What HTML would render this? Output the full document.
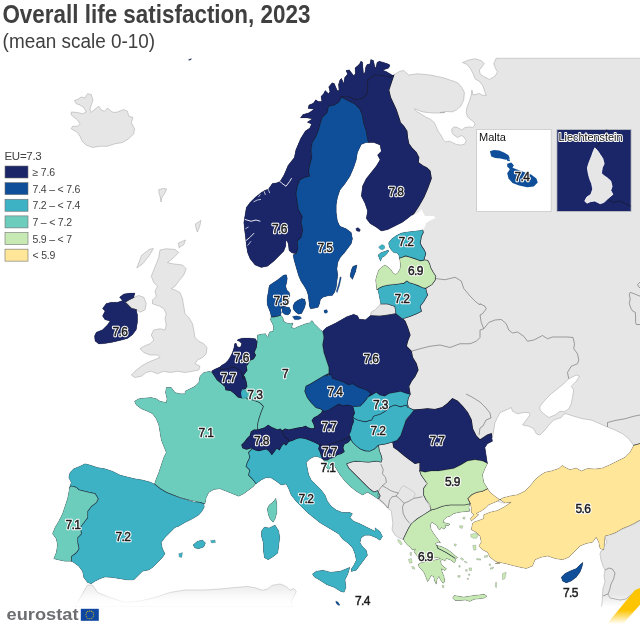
<!DOCTYPE html>
<html><head><meta charset="utf-8"><title>Overall life satisfaction, 2023</title>
<style>
html,body{margin:0;padding:0;background:#fff;}
body{width:640px;height:625px;overflow:hidden;position:relative;font-family:"Liberation Sans",sans-serif;}
svg{position:absolute;left:0;top:0;will-change:transform;}
text{font-family:"Liberation Sans",sans-serif;}
.lab{font-size:11.5px;font-weight:bold;fill:#111;stroke:#fff;stroke-width:2.2px;paint-order:stroke fill;stroke-linejoin:round;letter-spacing:-0.5px;}
.labw{font-size:11.5px;font-weight:bold;fill:#111;stroke:#fff;stroke-width:2.2px;paint-order:stroke fill;stroke-linejoin:round;letter-spacing:-0.5px;}
.halo{font-size:12px;fill:#fff;stroke:#fff;stroke-width:2.4px;stroke-linejoin:round;letter-spacing:-0.6px;}
.fg{font-size:12px;fill:#1c1c1c;stroke:#1c1c1c;stroke-width:0.45px;letter-spacing:-0.6px;}
.leg{font-size:10.5px;fill:#404040;letter-spacing:-0.2px;}
</style></head><body>
<svg width="640" height="625" viewBox="0 0 640 625">
<defs>
<linearGradient id="gfade" gradientUnits="userSpaceOnUse" x1="0" y1="580" x2="0" y2="606"><stop offset="0" stop-color="#e9e9e9"/><stop offset="1" stop-color="#ffffff"/></linearGradient>
<linearGradient id="fade2" gradientUnits="userSpaceOnUse" x1="0" y1="590" x2="0" y2="606"><stop offset="0" stop-color="#fff" stop-opacity="0"/><stop offset="1" stop-color="#fff" stop-opacity="1"/></linearGradient>
<linearGradient id="ofade" gradientUnits="userSpaceOnUse" x1="0" y1="610" x2="0" y2="624"><stop offset="0" stop-color="#fdc400"/><stop offset="1" stop-color="#ffffff"/></linearGradient>
<linearGradient id="gfade2" gradientUnits="userSpaceOnUse" x1="0" y1="594" x2="0" y2="607"><stop offset="0" stop-color="#e6e6e6"/><stop offset="1" stop-color="#ffffff"/></linearGradient>
<linearGradient id="fade" x1="0" y1="0" x2="0" y2="1"><stop offset="0" stop-color="#fff" stop-opacity="0"/><stop offset="1" stop-color="#fff" stop-opacity="1"/></linearGradient>
<path id="p0" d="M74.5,100.5L77.5,99.5L81.25,97L85,98L87.5,93.75L91.25,94.5L93,100L91.25,105L90,108.75L91.25,112.5L93.75,110L98.75,106.25L101.25,110L104.5,111.25L107.5,108L111.25,111.25L113.75,112.5L117.5,112L123.75,109.5L127.5,111.25L128.75,116.25L133,117.5L131.25,122.5L134.5,128.75L133.75,133.75L128.75,138.75L122.5,142.5L115,143.75L107.5,146.25L100,146.25L92.5,147.5L86.25,145L82,141.25L80,136.25L77.5,132.5L71.25,128.75L72.5,126.25L77.5,126.25L80,123.75L77.5,120L71.25,115L71.25,112L77.5,112.5L82.5,113.75L86.25,112L83.75,107.5L80,105L76.25,103.75Z"/>
<path id="p1" d="M393.75,75L400,71.25L403.75,70.5L408.75,75L417.5,73.75L430,75L442.5,77.5L453.75,81.25L458.12,83.12L461.88,87.5L464.38,92.5L463.75,100L460.62,106.25L456.25,110L452.5,111.88L446.25,111.5L440,112.5L445,112.5L437.5,113.12L430,112.75L422.5,111.88L414.38,108.75L416.25,111.25L420.62,113.75L425.62,116.88L430.62,119.38L434.38,122.5L436.25,126.88L438.12,131.25L441.25,135.62L443.12,139.38L445.62,141.88L449.38,141.25L452.5,142.5L456.25,144.38L460.62,145L464.38,144.38L466.25,140.62L463.75,136.88L461.25,135.62L457.5,137.5L453.75,135L451.88,132.5L451.88,128.75L453.75,126.88L457.5,127.5L461.88,130L465,127.5L470,126.88L472.5,127.5L474.38,125.62L475,123.12L471.25,120L467.5,116.88L466.25,112.5L466.88,107.5L469.38,101.25L471.25,95L471.88,90L473.12,95L479.38,93.5L482.5,95.25L486.25,95.25L485,92.5L483.12,86.25L480,81.88L475,78.75L473.12,73.75L470.62,68.75L466.88,64.38L462.5,62.5L468.75,60L475,58.75L481.25,60.62L484.38,63.75L481.88,66.88L479.38,70L480,73.75L483.12,76.25L489.38,79.38L495,76.25L497.5,71.88L495.62,68.75L493.75,63.75L496.25,58.12L645,58L645,470L560,485L470,485L440,460L420,430L405,400L400,350L405,300L415,260L412,232L412,200L405,150L395,125L386,100L384,85L389,76Z"/>
<path id="p2" d="M387.5,239L395,231L402.5,222.25L407.5,218.5L413.75,214.75L418.75,212.25L421.25,209L423,212.25L425,216L433.75,216L435.5,218L430,220.5L426.25,223L424.5,227.25L423,230.5L410,232.25L400,234.75L392.5,237.25Z"/>
<path id="p3" d="M487.5,440L492.5,437.5L493.75,430L495,422.5L497.5,417.5L500,412.5L507.5,409.5L511.25,407.5L512.5,411.25L517.5,413.75L523.75,412.5L528.75,412.5L530,415L526.25,420L522.5,425L528.75,426.25L533.75,428.75L536.25,433.75L540,435L545,430L548.75,425L553.75,420L561.25,417.5L563.75,414.25L566.25,413.75L573.75,416.25L582.5,418.75L591.25,420L600,423.75L607.5,427L615,430L622.5,433.75L628.75,438.75L632.5,443.75L633.75,446L636,452L620,470L560,482L520,499L503,503L497,501L480,497L474,475L478,455L484,440Z"/>
<path id="p4" d="M568.75,378.75L576.25,375L579.5,376.25L576.25,381.25L571.25,386.25L573.75,390L572.5,397.5L571.25,403.75L568.75,408.75L564.5,411.75L560,411.25L555,415L548.75,417.5L543.75,413.75L540,410L540,406.25L545,400L551.25,393.75L557.5,388.75L563.75,383.75Z"/>
<path id="p5" d="M160,250L166.25,248.75L175,249.5L178.75,252.5L173.75,257.5L167.5,262.5L172.5,263.75L182.5,265L186.25,268.75L183.75,275L178.75,281.25L175,286.25L171.25,288.75L175,290L180,292.5L182.5,298.75L183.75,306.25L185,313.75L188.75,317.5L192.5,323.75L193.75,330L195,337.5L198.75,341.25L203.75,343.75L207,347.5L206.25,353.75L202.5,357.5L197.5,360L195,363.75L200,366.25L198.75,370L192.5,371.25L185,372.5L177.5,371.25L170,372.5L163.75,371.25L157.5,373.75L151.25,371.25L146.25,372.5L141.25,376.25L135,377.5L131.25,375L135,371.25L141.25,366.25L147.5,362.5L153.75,360L160,357.5L157.5,355L150,355L143.75,352.5L140,348.75L143.75,346.25L150,343.75L153.75,340L151.25,335L153.75,330L160,328.75L165,330L166.25,325L165,318.75L166.25,313.75L163.75,308.75L160,306.25L156.25,305L152.5,303.75L152.5,300L156.25,296.25L155,291.25L157.5,286.25L153.75,282.5L151.25,276.25L153.75,270L156.25,263.75L158.75,257.5Z"/>
<path id="p6" d="M128.75,299.75L133.75,297.25L138.75,295.5L143.75,297.25L146.25,303.5L145,309.75L140,312.25L136.25,309.75L131.25,308.5L127.5,304.75L125,302.25Z"/>
<path id="p7" d="M370,317.5L371.25,312L375.5,309.5L380.75,303.75L387.5,303.75L395,306.25L396.25,313.75L388.75,315L380,316.25Z"/>
<path id="p8" d="M345,463.5L351.25,460.5L360,460.5L368.75,460L377.5,461.5L380,453.5L375,438.5L400,438.5L422.5,461L426.25,473.5L426.25,499.75L431.25,509.75L428.75,513.5L422.5,517.25L417.5,519.75L412.5,522.25L408.75,528.5L406.25,536L402.5,539.75L404.04,539.61L398.43,537.69L394.43,534.48L392.03,529.68L392.83,523.27L392.03,516.87L391.23,510.78L388.02,508.54L384.02,504.06L380.02,500.85L376.81,497.33L375.21,494.45L368.75,488.5L363.75,483.5L358.75,478.5L353.75,473.5L348.75,468.5Z"/>
<path id="p9" d="M158.7,189.7L163,188.5L166.6,189L165,192.8L161.9,197.5L161,202L160,196L159,193Z"/>
<path id="p10" d="M195.4,224L201,220.4L199.5,227L197.3,232L196,228Z"/>
<path id="p11" d="M178.5,243L185.4,240L183.8,244.6L179,247.7Z"/>
<path id="p12" d="M136.8,268L141.5,255.5L149.3,249.3L153.4,248.6L149.3,255.5L143,263.4Z"/>
<path id="p13" d="M211.25,372.5L210,371.25L203.75,372.5L200,376.25L198.75,382.5L195,386.25L190,388.75L185,391.25L185,393.75L180,393.75L175,392.5L171.25,387.5L166.25,387.5L165.5,392.5L167,398.75L166.25,402.5L160,401.25L156.25,398.75L151.25,397.5L145,398L138.75,398.75L134.5,401.25L136.25,405L141.25,408.75L147.5,411.25L152.5,413.75L156.25,418.75L158.75,425L160,432.5L161.25,440L163.75,446.25L166.25,452.5L163.75,457.5L161.25,465L158.75,472.5L156.25,478.75L154.5,483.75L160,488.75L166.25,492.5L172.5,495L180,497.5L187.5,499.5L195,501.25L201.25,503L205,503.75L206.25,497.5L208.75,492.5L213.75,489.5L220,488.75L226.25,491.25L232.5,493.75L238.75,496.25L243.75,493.75L248.75,490L253.75,486.25L257.5,481.25L258.75,475L256.25,460L257.5,445L265,432.5L270,420L270,407.5L260,398.75L250,393.75L240,387.5L227.5,380L217.5,372.5Z"/>
<path id="p14" d="M296.25,253.75L292,253L289,250.5L288.25,244L287,240.75L286,241L285.75,246.25L283.75,251.25L278.75,256.25L273.75,261.25L267.5,266.25L261.25,267.5L255,265L250,258.75L247.5,252.5L246.25,245L245.5,237.5L244.5,230L243.75,222.5L245,215L246.25,207.5L250,202.5L255,197.5L261.25,192.5L264.48,190.53L268.4,188.97L272.32,183.48L277.02,182.7L280.16,181.13L284.08,174.86L287.99,165.45L294.26,157.62L295.83,149.78L300.53,138.81L305.24,130.97L309.77,128.03L311.48,123.91L307.19,122.19L312.34,118.75L307.19,117.89L300.31,117.89L302.89,114.45L308.91,112.73L314.06,109.3L308.05,108.44L308.91,105L313.2,103.28L315.78,99.84L318.36,101.56L321.8,101.56L320.94,96.41L323.52,93.83L325.23,90.39L328.67,93.83L329.88,91.25L328.67,86.95L332.11,82.66L334.34,83.52L337.27,90.39L338.98,90.39L338.47,84.38L339.84,80.08L341.56,78.36L343.62,83.52L344.66,77.5L347.58,74.06L345.86,70.62L349.3,69.77L351.88,73.2L353.94,75.78L355.31,73.2L354.97,68.05L357.89,65.47L359.61,63.75L360.81,61.17L362.53,62.03L363.05,68.05L363.56,74.06L364.94,72.34L365.62,67.19L367,64.61L369.92,63.75L370.78,59.45L373.36,60.31L374.22,63.75L375.08,68.05L376.28,66.33L376.97,62.38L379.38,61.17L383.67,62.38L387.11,63.41L390.03,65.12L388.83,68.05L385.39,69.25L382.81,70.28L386.25,71.48L390.55,74.06L393.12,75.78L390,77.5L385,76.25L382.5,76.25L375,75L368,80L367.5,93.75L362.5,98.75L355,100L347.5,96.25L342,97L338.75,102.5L333.75,105.5L328.75,106.25L327.5,112.5L322.5,117.5L320,125L318.75,130L316.25,136.25L312.5,142.5L311.25,150L312,157.5L310,165L308.75,171.25L310,176.25L305,177.5L300,180L297.5,186.25L296.25,193.75L297.5,202.5L298.75,210L302.5,216.25L301.25,222.5L303,230L301.25,237.5L297.5,241.25L298,248.75Z"/>
<path id="p15" d="M322.82,331.07L326.27,327.62L335.67,322.92L346.65,316.65L353.7,314.29L357.62,315.86L359.18,319L365.45,319.78L370.16,315.86L380,316.25L388.75,315L396.25,313.75L400,316.25L405,321.25L407.5,327.5L410,335L407.5,341.25L406.25,346.25L411.25,351.25L412.5,357.5L416.25,363.75L418,370L415,376.25L411.25,381.25L408.75,386.25L410,393.75L405,396.25L392.5,397.5L381.25,397.5L370,397.5L360,390L347.5,386.25L335,381.25L328.75,375L328.75,367.5L326.25,360L323.75,352.5L322.5,343.75L323.75,336.25Z"/>
<path id="p16" d="M406.25,420L410,415L413.75,410L420,409.5L427.5,408.75L435,409.5L442.5,407.5L447.5,403.75L452.5,398.75L457.5,401.25L462.5,406.25L467.5,412.5L471.25,420L472.5,428.75L476.25,436.25L480,440L487.5,435L491.25,433.75L492.5,441.25L487.5,443.75L485,447.5L487.5,463.5L482.5,461L475,459.75L467.5,461L461.25,464.75L453.75,468.5L446.25,469.75L438.75,471L431.25,471L425,472.25L420,471L420,462.25L415,463.5L410,459.75L405,456L397.5,449.75L393.75,447.25L392.5,440L396.25,432.5L400,425L403.75,417.5Z"/>
<path id="p17" d="M403.59,538.67L406.17,533.52L408.75,528.36L411.33,524.06L417.34,518.91L424.22,514.61L431.09,510.31L437.97,505.16L446.56,502.58L455.16,503.44L463.75,502.58L468.05,499.14L471.48,500L470.62,501.72L468.91,506.88L469.77,511.17L463.75,511.69L458.59,512.38L453.44,513.75L450,516.33L446.56,517.19L443.98,519.77L443.12,522.34L446.56,523.2L450,524.06L448.28,525.78L444.84,524.92L445.7,527.5L443.98,529.22L441.41,527.5L439.69,530.08L437.97,528.36L437.11,525.78L434.53,524.06L431.95,522.34L430.23,524.92L431.09,529.22L433.67,533.52L436.25,536.95L438.83,540.39L440.55,542.97L437.97,542.11L435.39,543.83L437.97,546.41L442.27,548.12L446.56,550.7L450,553.28L453.44,556.72L456.02,560.16L454.3,562.73L450.86,560.16L446.56,558.44L444.84,561.02L442.27,559.3L440.55,561.02L441.41,564.45L443.98,567.03L446.56,568.75L444.84,570.47L441.41,568.75L442.27,572.19L443.98,576.48L444.84,581.64L443.12,583.36L440.55,579.92L438.83,576.48L437.11,579.06L436.25,584.22L434.53,580.78L433.67,576.48L431.09,575.62L429.38,579.06L427.66,581.64L425.94,577.34L424.22,573.05L421.64,569.61L419.06,567.03L418.2,564.45L420.78,562.73L425.08,561.88L429.38,561.02L433.67,560.16L437.97,559.3L440.55,558.44L437.11,557.58L431.95,558.44L426.8,559.3L422.5,559.3L419.06,558.44L416.48,555L413.91,551.56L415.62,548.98L412.19,549.84L410.47,547.27L407.03,544.69L404.45,541.25Z"/>
<path id="p18" d="M641.25,443.5L633.75,445.5L630,452.25L625,457.25L617.5,461L610,464.75L602.5,468L595,469L587.5,468.5L581.25,471L576.25,468L570,469.75L565,467.25L562.5,465.5L558.75,468.5L551.25,471L545,472.25L540,475.5L535,479.75L530,486L525,491L517.5,494.75L510,496L502.5,498L500,499.75L505,503L511.25,502.25L503.75,507.25L497.5,510.5L490,512.25L483.75,514.75L483.75,518.5L478.75,520.5L475,521.5L472.5,523.5L471.25,529.75L476.25,532.25L480,536L481.25,542.25L478.75,546L482.5,549.75L487.5,552.25L490,557.25L495,561L500,563.5L495,563.5L498.75,562.25L505,563.5L512.5,565.5L520,567.25L526.25,568.5L532.5,566L535,559.75L541.25,557.25L547.5,556L555,558.5L562.5,559.75L568.75,557.25L575,551L580,546L586.25,543.5L592.5,542.25L596.25,537.25L598.75,542.25L600,548.5L603.75,549.75L604.5,542.25L605,536L610,534.75L616.25,532.25L622.5,528.5L630,525.5L636.25,522.25L641.25,519.25Z"/>
<path id="p19" d="M470,503.5L467.5,498.5L471.25,494.75L476.25,492.25L482.5,491L487.5,488.5L490,492.25L496.25,497.25L500,499.75L495,502.25L488.75,504.75L485,508.5L481.25,511L476.25,513.5L478.75,514.75L475,518L471.25,521L470.5,518.5L473.75,514.75L471.25,512.25L471.25,507.25Z"/>
<path id="p20" d="M323.75,460L327.5,456.25L335,452.5L340,447.5L345,440L350,435L360.31,445L369.69,446.88L378.12,444.06L379.06,450.62L380.94,455.31L381.88,459.06L380.94,461.88L376.25,460.94L368.75,461.88L361.25,461.5L355.62,460.94L350.94,461.88L346.25,463.75L348.75,468.5L353.75,473.5L358.75,478.5L363.75,483.5L368.75,488.5L373.75,492.25L377.5,491L380,496L378,499L373.75,496L367.5,492.25L362.5,495L356.25,491.25L350,486.25L345,481.25L340,475L336.25,468.75L332.5,462.5L331.25,466.25L328.75,470L325,466.25Z"/>
<path id="p21" d="M248.75,452.5L253.75,447.5L270,445L285,440L295,433.75L315,436.25L325,441.25L325,450L325.5,457.5L323.75,460L320,457.5L315,456.25L310,458.75L306.25,462.5L307.5,468.75L308.75,475L311.25,480L316.25,485L321.25,490L325,495L327.5,501.25L331.25,506.25L336.25,510L342.5,512.5L350,512.5L352.5,513.75L350,517.5L353.75,521.25L360,523.75L367.5,527.5L375,531.25L375,527.75L380,531.5L382.5,536.5L380,540.25L376.25,537.75L370,535.25L365,535.25L361.25,537.75L360,542.75L362.5,546.5L366.25,550.25L367.5,555.25L363.75,560.25L360,565.25L356.25,570.25L351.25,571.5L351.25,569L353.75,565.25L356.25,560.25L355,554L352.5,547.75L347.5,542.75L342.5,539L338.75,534L332.5,530.25L326.25,526.5L320,522.75L313.75,517.75L307.5,512.75L301.25,506.5L296.25,501.5L291.25,495.25L288.75,489L286.25,484L281.25,485L276.25,481.25L271.25,478L266.25,477.5L261.25,480L256.25,483.75L252.5,478.75L248.75,475L250,470L246.25,466.25L247.5,462.5L250,457.5Z"/>
<path id="p22" d="M71.25,561.25L71.25,556.25L76.25,552.5L78.75,548.75L77.5,542.5L77.5,537.5L81.25,533.75L80,527.5L83.75,522.5L87.5,517.5L87.5,511.25L91.25,506.25L96.25,502.5L98,498.75L95,493.75L88.75,492.5L83.75,491.25L78.75,490L76.25,487.5L71.25,486.25L69.5,487.5L71.25,482.5L68.75,477.5L70,472.5L73.75,468.75L80,466.25L85,463.75L90,465L97.5,467.5L105,468.75L112.5,471.25L120,475L127.5,477L135,478.75L142.5,480L150,482L153.75,483.75L160,488.75L166.25,492.5L172.5,495L180,498L187.5,500L193.75,502L200,502.5L204,504L204.25,507L202,511.25L198.75,515L192.5,518.75L185,522.5L178.75,526.25L175,527.5L170,532.5L165,537.5L161.25,542.5L162.5,548.75L165,553.75L162.5,557.5L157.5,562.5L152.5,567.5L148.75,570L142.5,571.25L138.75,575L133.75,580L127.5,580L120,578.75L112.5,577.5L105,577L100,578.75L95,581.25L91.25,583.75L87.5,582.5L83.75,577.5L82.5,571.25L78.75,566.25L73.75,562.5Z"/>
<path id="p23" d="M298,248.75L297.5,241.25L301.25,237.5L303,230L301.25,222.5L302.5,216.25L298.75,210L297.5,202.5L296.25,193.75L297.5,186.25L300,180L305,177.5L310,176.25L308.75,171.25L310,165L312,157.5L311.25,150L312.5,142.5L316.25,136.25L318.75,130L320,125L322.5,117.5L327.5,112.5L328.75,106.25L333.75,105.5L338.75,102.5L342,97L347.5,100L355,103.75L360,108.75L362.5,115L363.75,122.5L366.25,130L367.5,137.5L368.75,142.5L366.25,142.5L361.25,144.5L357.5,152.5L356.25,160L353.75,167.5L350,176.25L345,183.75L340,190L337.5,197.5L336.25,205L336.25,212.5L337.5,221.25L340,226.25L346.25,228.75L351.25,232.5L352.5,238.75L351.25,243.75L347.5,248.75L343.75,253.75L344.04,253.13L340.13,257.84L337.77,262.54L336.99,268.81L337.77,275.08L336.99,281.35L336.21,287.62L334.64,292.32L332.29,295.45L328.37,295.77L323.67,297.02L320.53,299.37L319.75,303.29L318.18,307.21L314.26,308.31L310.34,308.78L309.25,305.64L308.78,300.16L307.99,294.67L306.43,289.97L304.08,286.05L300.94,281.35L298.59,275.86L297.02,270.38L295.45,264.89L293.89,259.4L293.1,254.7L296.25,253.75Z"/>
<path id="p24" d="M342,97L347.5,96.25L355,100L362.5,98.75L367.5,93.75L368,80L375,75L382.5,76.25L385,76.25L390,77.5L393.75,75L391.25,82.5L388.75,90L390.5,97.5L396.25,110L400,121.25L400,122.5L403.75,126.25L406.88,131.25L407.5,137.5L408.75,143.75L411.88,148.12L416.25,152.5L418.75,157.5L418.12,162.5L422.5,165.62L426.88,168L430,171L431.25,178.5L427.5,188.5L423.75,197.25L418.75,206L413.75,213.5L407.5,218.5L402.5,222.25L395,226L387.5,229.75L381.25,231L376.25,227.25L370,223.5L366.25,218.5L367.5,211L365,203.5L361.25,196L362.5,186L366.25,178.5L371.25,172.25L376.25,166L380,159.75L377.5,155L381.25,151.25L380,145L373.75,142.5L368.75,142.5L367.5,137.5L366.25,130L363.75,122.5L362.5,115L360,108.75L355,103.75L347.5,100L342,97Z"/>
<path id="p25" d="M271.16,316.61L274.29,316.61L278.21,315.83L280.56,315.05L282.92,317.4L283.7,321.32L286.83,322.88L290.75,323.67L293.1,322.88L291.54,327.59L294.67,328.37L297.81,326.8L301.72,325.24L305.64,323.67L309.56,322.88L311.91,320.53L314.26,323.67L317.4,326.8L320.53,329.94L322.88,331.5L322.5,331.25L323.75,337.5L322.5,345L323.75,352.5L326.25,360L328.75,367.5L328.75,373.75L325,380L317.5,385L312.5,388.75L311.25,395L315,402.5L320,407.5L325,412.5L322.5,420L320,430L310,435L298.75,437.5L283.75,437.5L275,436.25L262.5,433.75L258,430L257.5,426.25L258.75,420L261.25,412.5L263.75,406.25L260,402.5L253.75,400L247.5,398.75L244.64,396.32L243.92,392L243.2,387.68L243.2,383.36L243.2,374.72L247.52,363.2L251.84,353.12L254,343.04L256.88,341.6L257.6,335.12L261.92,334.11L265.52,333.68L266.96,336.56L267.97,337.28L268.83,333.68L269.84,331.81L272.72,331.52L273.73,327.92L272.72,324.32L270.56,320L270.38,319.75Z"/>
<path id="p26" d="M420,471L425,472.25L431.25,471L438.75,471L446.25,469.75L453.75,468.5L461.25,464.75L467.5,461L475,459.75L482.5,461L487.5,463.5L485,468.5L482.5,474.75L483.75,482.25L487.5,488.5L482.5,491L476.25,492.25L471.25,494.75L467.5,498.5L470,503.5L465,504.75L457.5,504.75L450,504.75L442.5,506L436.25,508.5L431.25,509.75L430,504.75L426.25,499.75L423.75,494.75L423.75,488.5L427.5,483.5L423.75,478.5L421.25,474.75Z"/>
<path id="p27" d="M71.25,561.25L71.25,556.25L76.25,552.5L78.75,548.75L77.5,542.5L77.5,537.5L81.25,533.75L80,527.5L83.75,522.5L87.5,517.5L87.5,511.25L91.25,506.25L96.25,502.5L98,498.75L95,493.75L88.75,492.5L83.75,491.25L78.75,490L76.25,487.5L71.25,486.25L69.5,487.5L68.75,492.5L67.5,498.75L65,506.25L62.5,513.75L58.75,521.25L55,527.5L52.5,533.75L56.25,538.75L57.5,545L56.25,552.5L53.75,558.75L58.75,560L65,561.25Z"/>
<path id="p28" d="M350,415L357.5,413.12L372.5,411.25L383.75,407.5L395,400L406.25,401.88L408.12,407.5L413.75,410.31L410,415L406.25,418.75L404.38,424.38L402.5,430L400.62,435.62L396.88,440.31L391.25,442.19L384.69,444.06L378.12,445L374.38,448.75L369.69,451L365,450.62L360.31,448.75L356.56,445.94L352.81,442.19L350,437.5L349.06,433.75L348.12,430L346.25,426.25L348.12,420.62Z"/>
<path id="p29" d="M119.5,297.25L123.75,294L130,293L135,293L133.75,297.25L128.75,299.75L125,302.25L127.5,304.75L131.25,308.5L136.25,309.75L137.5,314.75L137.5,322.25L136.25,329.75L132.5,334.75L127.5,338.5L120,340.5L112.5,342.25L105,343.5L98.75,344L95,341L94.5,336L96.25,332.25L102.5,329.75L107.5,324.75L110,321L105,319.75L102.5,316L105,311L102.5,308.5L106.25,303.5L111.25,302.25L117.5,302.25L122.5,300.5Z"/>
<path id="p30" d="M353,266.25L357,265L355.75,271.25L352.5,279.5L350,276.25L351.25,270Z"/>
<path id="p31" d="M340.13,276.65L341.38,277.43L339.66,285.27L337.15,292.63L336.21,291.54L338.56,283.7Z"/>
<path id="p32" d="M355.75,228.5L358,227.5L360.5,229.75L359.5,231.75L356.5,231Z"/>
<path id="p33" d="M269.59,285.27L272.73,282.92L276.65,280.56L280.56,277.43L283.7,275.08L286.36,274.76L287.3,278.21L286.83,282.13L285.74,286.05L286.83,289.97L289.18,292.32L289.97,295.45L288.4,298.59L289.18,301.72L287.62,304.08L285.27,306.43L282.13,307.21L280.56,309.56L281.35,312.7L280.56,315.05L278.21,315.83L274.29,316.61L271.16,316.61L270.38,312.7L268.81,308.78L267.24,304.86L266.93,300.16L267.55,295.45L268.5,290.75L268.81,287.62Z"/>
<path id="p34" d="M281.82,307.68L285.27,306.74L289.18,307.21L290.75,310.34L289.97,313.48L287.62,315.05L284.48,314.26L282.13,311.91Z"/>
<path id="p35" d="M294.67,302.51L297.81,300.16L301.72,298.59L304.86,299.37L305.64,303.29L304.86,307.21L303.29,310.34L301.72,313.48L298.59,314.26L295.45,311.91L293.1,308.78L293.1,305.64Z"/>
<path id="p36" d="M292.32,316.61L296.24,315.83L300.16,316.61L301.72,318.18L298.59,319.75L294.67,319.75Z"/>
<path id="p37" d="M323.98,310.34L326.8,309.56L327.9,311.91L326.02,313.48L323.98,312.38Z"/>
<path id="p38" d="M378.5,246.88L381.88,244.38L384.38,245.62L385,248.12L382.5,250L380,249Z"/>
<path id="p39" d="M378.12,255L381.25,252.5L385,251.25L388.12,250L388.75,251.25L386.88,253.75L384.38,256.25L381.88,257.5L380.62,261.25L379.75,259.38L378.75,256.88Z"/>
<path id="p40" d="M376.88,290L378.75,285L387.5,282.5L398.75,281.25L413.75,281.25L425.62,288.12L426.25,291.88L427.5,295L425.62,298L423.75,301.25L420,306.25L421.25,311.25L416.25,313.75L410,316.25L402.5,318.75L396.25,313.75L395,306.25L387.5,303.75L380.75,303.75L379.5,297.5L378,290Z"/>
<path id="p41" d="M452.58,597.97L454.3,595.39L458.59,596.25L463.75,597.11L468.91,596.25L474.06,595.39L479.22,594.88L484.38,594.19L486.95,596.25L484.38,597.97L479.22,598.83L474.06,599.34L469.77,601.41L465.47,600.03L460.31,600.55L455.16,600.55Z"/>
<path id="p42" d="M502.5,573.5L506.25,572.25L505,578.5L502.5,579.75Z"/>
<path id="p43" d="M437.11,545.55L441.41,546.41L446.56,548.98L451.72,552.42L455.16,555.86L457.73,557.58L456.02,558.44L451.72,555.86L446.56,552.42L441.41,549.84L437.97,548.12Z"/>
<path id="p44" d="M470.62,534.38L475.78,533L478.36,535.23L476.64,538.16L473.2,538.16L470.97,536.95Z"/>
<path id="p45" d="M472.69,545.55L475.78,545.03L476.12,549.84L473.72,550.19Z"/>
<path id="p46" d="M397.58,539.53L400.16,540.39L402.22,543.83L401.02,545.03L398.44,542.11Z"/>
<path id="p47" d="M408.41,559.3L411.33,558.44L412.19,562.73L409.61,563.25Z"/>
<path id="p48" d="M484.38,555.86L487.81,555.34L487.47,557.06L484.38,557.58Z"/>
<path id="p49" d="M490.39,567.89L493.83,567.03L492.97,568.75L490.39,569.27Z"/>
<path id="p50" d="M561.25,577.25L565,573.5L570,571L576.25,568.5L580,564.75L583,562.25L582,567.25L580,572.25L576.25,577.25L571.25,581L566.25,583L562.5,581Z"/>
<path id="p51" d="M312.4,574.08L316.24,571.2L322.96,570.24L330.64,572.16L340.24,571.2L349.84,567.36L347.92,574.08L345.04,579.84L346,587.52L344.08,592.32L340.24,591.36L334.48,587.52L326.8,584.64L319.12,579.84L314.32,576.96Z"/>
<path id="p52" d="M261.52,530.88L264.4,527.04L269.2,528L274.96,525.12L278.8,530.88L279.76,537.6L278.8,545.28L277.84,552.96L273.04,556.8L268.24,559.68L264.4,557.76L263.44,551.04L263.44,543.36L261.52,536.64Z"/>
<path id="p53" d="M275.92,498.24L276.88,504.96L276.88,512.64L274.96,519.36L273.04,522.24L270.16,519.36L268.24,514.56L267.28,508.8L269.2,504.96L273.04,502.08Z"/>
<path id="p54" d="M335.75,601L338,602L340,605.25L338,605.25L336,603Z"/>
<path id="p55" d="M193,545L197.5,541.25L202.5,540L205.5,543L203.75,547L198.75,548.75L195,548Z"/>
<path id="p56" d="M178.75,553.75L182.5,552.5L181.75,557.5L179.25,557Z"/>
<path id="p57" d="M210.5,540.5L215,540L215.5,542.5L211.5,543Z"/>
<path id="p58" d="M462.89,517.19L465.12,517.19L464.61,519.25L462.89,518.91Z"/>
<path id="p59" d="M459.45,525.78L462.89,525.78L462.38,528.36L459.97,528.02Z"/>
<path id="p60" d="M461.17,557.58L463.75,559.3L462.89,560.5L460.31,558.78Z"/>
<path id="p61" d="M464.61,561.02L467.19,562.22L466.5,563.08L464.27,561.88Z"/>
<path id="p62" d="M468.91,567.89L471.48,567.89L471.48,570.81L469.25,570.47Z"/>
<path id="p63" d="M465.47,569.61L467.19,569.61L467.19,571.33L465.64,571.16Z"/>
<path id="p64" d="M495.55,582.5L496.75,582.5L496.41,587.66L495.2,586.8Z"/>
<path id="p65" d="M411.84,566.17L414.25,567.03L414.77,569.27L412.19,568.41Z"/>
<path id="p66" d="M410.12,552.42L411.67,552.42L411.33,555.86L410.12,555Z"/>
<path id="p67" d="M454.3,543.83L456.53,544.34L455.5,546.41L454.12,545.38Z"/>
<path id="p68" d="M442.27,585.08L443.98,585.59L443.64,588L442.27,587.31Z"/>
<path id="p69" d="M457.73,575.62L460.31,575.62L459.97,577.34L457.91,577.17Z"/>
<path id="p70" d="M476.64,558.44L480.94,558.95L480.59,560.16L476.64,559.64Z"/>
<path id="p71" d="M458.94,565.31L460.31,565.66L459.97,567.38L458.77,567.03Z"/>
<path id="p72" d="M468.56,573.91L469.94,573.91L469.77,575.62L468.56,575.28Z"/>
<path id="p73" d="M467.19,578.2L468.56,578.2L468.39,579.58L467.19,579.41Z"/>
<path id="p74" d="M489.19,563.94L490.56,563.94L490.39,565.66L489.19,565.31Z"/>
<path id="p75" d="M188.5,59.6L191.5,58.4L191.2,59.6L189,60.4Z"/>
<path id="p76" d="M353.75,417.81L351.88,414.06L350.94,410.31L353.75,406.56L360.31,405.62L364.06,401.88L366.88,398.12L371.56,395.31L376.25,392.5L380,395.31L384.69,396.25L389.38,393.44L395,392.5L400.62,391.56L406.25,393.44L410,394.38L408.12,398.12L407.19,402.81L408.12,407.5L406.25,404.69L400.62,406.56L395,404.69L390.31,406.56L384.69,411.25L380,414.06L373.44,415.94L371.56,419.69L365,421.56L357.5,419.69Z"/>
<path id="p77" d="M399.38,258.12L400,261.25L400.62,265L400,268.75L398.12,272.5L395.62,274.38L393.12,273.12L391.25,270L388.75,267.5L385,265L381.88,266.88L378.75,270L376.88,275L375.62,280L376.25,285L376.88,290L378.75,288.12L382.5,286.25L387.5,285L392.5,284.38L398.75,283.75L403.75,283.12L406.88,280.62L409.38,282.5L413.75,283.75L418.75,285.62L422.5,287.5L425.62,288.12L428.75,286.25L431.88,284.38L435,280L435.62,276.25L433.12,272.5L430.62,268.12L429.38,263.75L427.5,260.62L423.75,260L422.5,257.5L417.5,256.25L410,254.38L405.62,253.12L401.88,255.62Z"/>
<path id="p78" d="M319.69,444.62L324.38,445L330,444.06L335.62,442.19L341.25,440.31L345.94,438.44L349.69,436.56L350.62,439.38L347.81,442.19L344.06,444.06L342.75,447.81L344.06,451.56L341.25,453.44L337.5,454.38L333.75,457.19L330,458.12L327.19,460L323.44,459.62L321.56,456.25L320.62,452.5L318.75,448.75L319.69,445.94Z"/>
<path id="p79" d="M211.52,371.12L215.12,368.96L218,367.81L220.16,366.8L220.88,369.68L223.76,368.96L226.64,368.24L230.24,367.52L233.12,366.8L236,367.52L238.16,368.96L240.32,370.4L241.76,371.84L243.2,375.44L244.64,377.6L246.08,381.92L246.8,386.24L245.36,388.4L242.48,389.12L241.04,392L241.04,394.16L241.76,397.76L238.16,397.04L234.56,393.44L230.96,390.56L225.92,389.84L225.2,386.24L221.6,383.36L217.28,379.76L214.4,375.44Z"/>
<path id="p80" d="M282.19,430.94L285,429.06L288.75,430L293.44,429.06L298.12,428.12L302.81,427.19L305.62,426.25L308.44,428.12L312.19,429.06L315,428.12L314.06,424.38L312.19,420.62L314.06,417.81L317.81,415.94L321.56,413.12L324.38,407.5L330,404.69L335.62,401.88L341.25,403.38L347.81,404.12L352.5,405.62L354.38,413.12L352.5,416.88L353.44,421.56L351.56,426.25L350.62,430.94L348.75,434.69L349.69,436.56L345.94,438.44L341.25,440.31L335.62,442.19L330,444.06L324.38,445L319.69,444.62L315,442.19L310.31,440.31L305.62,438.44L300,437.5L296.25,438.44L292.5,440.31L288.75,441.25L287.81,439.38L285,437.5L283.12,434.69Z"/>
<path id="p81" d="M388.75,242.5L391.88,238.75L396.25,235.62L401.25,233.12L407.5,231.88L413.75,231.25L420,230.62L422.5,229.75L423.12,232.5L421.25,236.25L420.62,240L420,243.12L421.88,246.88L424.38,250.62L425.62,253.75L424.38,257.5L423.75,260L420.62,260.62L417.5,259.38L413.75,258.12L410,256.88L405.62,255.62L402.5,256.88L399.38,258.12L398.75,255L396.88,253.12L393.75,252.5L391.25,250L389.38,246.88L388.75,244.38Z"/>
<path id="p82" d="M220.16,366.8L221.6,365.36L225.2,363.2L228.08,360.32L230.24,356.72L232.4,352.4L233.84,348.08L234.56,343.76L236,343.04L237.44,346.64L240.32,347.36L241.76,343.76L239.6,341.6L237.15,340.45L238.16,339.15L243.2,338L248.96,338L255.44,338.72L256.88,341.6L256.16,347.36L254,352.4L255.44,355.28L253.28,358.88L249.68,360.32L248.24,363.2L246.08,366.08L246.8,370.4L244.64,373.28L243.2,375.44L244.35,377.6L243.2,378.32L241.76,371.84L240.32,370.4L238.16,368.96L236,367.52L233.12,366.8L230.24,367.52L226.64,368.24L223.76,368.96L220.88,369.68Z"/>
<path id="p83" d="M242.48,389.12L245.36,390.56L247.52,394.16L246.8,397.76L243.2,398.48L241.76,397.76L241.04,394.16L241.04,392Z"/>
<path id="p84" d="M257.81,430L264.38,428.12L268.12,425.31L272.81,428.12L277.5,430L280.31,429.06L282.19,430.94L283.12,434.69L285,437.5L287.81,439.38L288.75,441.25L285.94,445L284.06,443.12L281.25,445.94L279.38,449.69L276.56,447.81L274.69,450.62L271.88,454.38L269.06,450.62L266.25,448.75L262.5,449.69L258.75,450.62L255,449.69L251.25,447.81L246.56,449.12L242.81,447.81L241.88,445L244.69,442.19L247.5,438.44L250.31,435.62L251.25,431.88L254.06,430Z"/>
<path id="p85" d="M306.25,386.25L311.25,383.75L317.5,380L323.75,376.25L328.75,373.75L325.62,376.56L331.25,374.69L332.19,378.44L337.81,380.31L343.44,382.19L348.12,385L352.81,384.06L357.5,386.88L362.19,388.75L366.88,390.62L370.62,393.44L366.88,398.12L364.06,401.88L360.31,405.62L353.75,406.56L348.12,404.69L342.5,405.62L338.75,403.75L334.06,406.56L329.38,409.38L324.69,411.25L320,408.44L316.25,407.5L311.25,402.5L307.5,397.5L305,391.25Z"/>
<mask id="land" maskUnits="userSpaceOnUse" x="0" y="0" width="640" height="625"><rect width="640" height="625" fill="#000"/>
<use href="#p0" fill="#fff"/>
<use href="#p1" fill="#fff"/>
<use href="#p2" fill="#000"/>
<use href="#p3" fill="#000"/>
<use href="#p4" fill="#000"/>
<use href="#p5" fill="#fff"/>
<use href="#p6" fill="#fff"/>
<use href="#p7" fill="#fff"/>
<use href="#p8" fill="#fff"/>
<use href="#p9" fill="#fff"/>
<use href="#p10" fill="#fff"/>
<use href="#p11" fill="#fff"/>
<use href="#p12" fill="#fff"/>
<use href="#p13" fill="#fff"/>
<use href="#p14" fill="#fff"/>
<use href="#p15" fill="#fff"/>
<use href="#p16" fill="#fff"/>
<use href="#p17" fill="#fff"/>
<use href="#p18" fill="#fff"/>
<use href="#p19" fill="#fff"/>
<use href="#p20" fill="#fff"/>
<use href="#p21" fill="#fff"/>
<use href="#p22" fill="#fff"/>
<use href="#p23" fill="#fff"/>
<use href="#p24" fill="#fff"/>
<use href="#p25" fill="#fff"/>
<use href="#p26" fill="#fff"/>
<use href="#p27" fill="#fff"/>
<use href="#p28" fill="#fff"/>
<use href="#p29" fill="#fff"/>
<use href="#p30" fill="#fff"/>
<use href="#p31" fill="#fff"/>
<use href="#p32" fill="#fff"/>
<use href="#p33" fill="#fff"/>
<use href="#p34" fill="#fff"/>
<use href="#p35" fill="#fff"/>
<use href="#p36" fill="#fff"/>
<use href="#p37" fill="#fff"/>
<use href="#p38" fill="#fff"/>
<use href="#p39" fill="#fff"/>
<use href="#p40" fill="#fff"/>
<use href="#p41" fill="#fff"/>
<use href="#p42" fill="#fff"/>
<use href="#p43" fill="#fff"/>
<use href="#p44" fill="#fff"/>
<use href="#p45" fill="#fff"/>
<use href="#p46" fill="#fff"/>
<use href="#p47" fill="#fff"/>
<use href="#p48" fill="#fff"/>
<use href="#p49" fill="#fff"/>
<use href="#p50" fill="#fff"/>
<use href="#p51" fill="#fff"/>
<use href="#p52" fill="#fff"/>
<use href="#p53" fill="#fff"/>
<use href="#p54" fill="#fff"/>
<use href="#p55" fill="#fff"/>
<use href="#p56" fill="#fff"/>
<use href="#p57" fill="#fff"/>
<use href="#p58" fill="#fff"/>
<use href="#p59" fill="#fff"/>
<use href="#p60" fill="#fff"/>
<use href="#p61" fill="#fff"/>
<use href="#p62" fill="#fff"/>
<use href="#p63" fill="#fff"/>
<use href="#p64" fill="#fff"/>
<use href="#p65" fill="#fff"/>
<use href="#p66" fill="#fff"/>
<use href="#p67" fill="#fff"/>
<use href="#p68" fill="#fff"/>
<use href="#p69" fill="#fff"/>
<use href="#p70" fill="#fff"/>
<use href="#p71" fill="#fff"/>
<use href="#p72" fill="#fff"/>
<use href="#p73" fill="#fff"/>
<use href="#p74" fill="#fff"/>
<use href="#p75" fill="#fff"/>
<use href="#p76" fill="#fff"/>
<use href="#p77" fill="#fff"/>
<use href="#p78" fill="#fff"/>
<use href="#p79" fill="#fff"/>
<use href="#p80" fill="#fff"/>
<use href="#p81" fill="#fff"/>
<use href="#p82" fill="#fff"/>
<use href="#p83" fill="#fff"/>
<use href="#p84" fill="#fff"/>
<use href="#p85" fill="#fff"/>
</mask>
<clipPath id="mapclip"><rect x="0" y="57.5" width="640" height="549"/></clipPath>
</defs>
<g clip-path="url(#mapclip)">
<path d="M601,551L603,550L604.4,545L607,543L605.6,539L605,536L608,534.4L614,533.6L620,530L627,527L634,524L641,520L641,608L601,608L602,604L602.4,596L603,588L605,582L604,576L605,570L603,566L601,560L600,554Z" fill="url(#gfade2)" stroke="#a0a0a0" stroke-width="0.5"/><path d="M605,570L609,568L612.4,569L615,573L613.6,579L611,584L609.6,590L608,594L603,596" fill="none" stroke="#555" stroke-width="0.5"/><path d="M608,594L610,598L620,600L626,599L632,594L636,590" fill="none" stroke="#777" stroke-width="0.5"/>
<use href="#p0" fill="#e6e6e6" stroke="#a0a0a0" stroke-width="0.5"/>
<use href="#p1" fill="#e6e6e6" stroke="#a0a0a0" stroke-width="0.5"/>
<use href="#p2" fill="#fff" stroke="none" stroke-width="0.5"/>
<use href="#p3" fill="#fff" stroke="#a0a0a0" stroke-width="0.5"/>
<use href="#p4" fill="#fff" stroke="#a0a0a0" stroke-width="0.5"/>
<use href="#p5" fill="#e6e6e6" stroke="#a0a0a0" stroke-width="0.5"/>
<use href="#p6" fill="#e6e6e6" stroke="#a0a0a0" stroke-width="0.5"/>
<use href="#p7" fill="#e6e6e6" stroke="#a0a0a0" stroke-width="0.5"/>
<use href="#p8" fill="#e6e6e6" stroke="#a0a0a0" stroke-width="0.5"/>
<use href="#p9" fill="#e6e6e6" stroke="#a0a0a0" stroke-width="0.5"/>
<use href="#p10" fill="#e6e6e6" stroke="#a0a0a0" stroke-width="0.5"/>
<use href="#p11" fill="#e6e6e6" stroke="#a0a0a0" stroke-width="0.5"/>
<use href="#p12" fill="#e6e6e6" stroke="#a0a0a0" stroke-width="0.5"/>
<use href="#p13" fill="none" stroke="#15172b" stroke-width="1.1" mask="url(#land)"/>
<use href="#p13" fill="#6dcdbd" stroke="#222" stroke-opacity="0.4" stroke-width="0.45"/>
<use href="#p14" fill="none" stroke="#15172b" stroke-width="1.1" mask="url(#land)"/>
<use href="#p14" fill="#1b2668" stroke="#222" stroke-opacity="0.4" stroke-width="0.45"/>
<use href="#p15" fill="none" stroke="#15172b" stroke-width="1.1" mask="url(#land)"/>
<use href="#p15" fill="#1b2668" stroke="#222" stroke-opacity="0.4" stroke-width="0.45"/>
<use href="#p16" fill="none" stroke="#15172b" stroke-width="1.1" mask="url(#land)"/>
<use href="#p16" fill="#1b2668" stroke="#222" stroke-opacity="0.4" stroke-width="0.45"/>
<use href="#p17" fill="none" stroke="#15172b" stroke-width="1.1" mask="url(#land)"/>
<use href="#p17" fill="#c7e9b4" stroke="#222" stroke-opacity="0.4" stroke-width="0.45"/>
<use href="#p18" fill="none" stroke="#15172b" stroke-width="1.1" mask="url(#land)"/>
<use href="#p18" fill="#ffe699" stroke="#222" stroke-opacity="0.4" stroke-width="0.45"/>
<use href="#p19" fill="none" stroke="#15172b" stroke-width="1.1" mask="url(#land)"/>
<use href="#p19" fill="#ffe699" stroke="#222" stroke-opacity="0.4" stroke-width="0.45"/>
<use href="#p20" fill="none" stroke="#15172b" stroke-width="1.1" mask="url(#land)"/>
<use href="#p20" fill="#6dcdbd" stroke="#222" stroke-opacity="0.4" stroke-width="0.45"/>
<use href="#p21" fill="none" stroke="#15172b" stroke-width="1.1" mask="url(#land)"/>
<use href="#p21" fill="#3db2c4" stroke="#222" stroke-opacity="0.4" stroke-width="0.45"/>
<use href="#p22" fill="none" stroke="#15172b" stroke-width="1.1" mask="url(#land)"/>
<use href="#p22" fill="#3db2c4" stroke="#222" stroke-opacity="0.4" stroke-width="0.45"/>
<use href="#p23" fill="none" stroke="#15172b" stroke-width="1.1" mask="url(#land)"/>
<use href="#p23" fill="#0f4e99" stroke="#222" stroke-opacity="0.4" stroke-width="0.45"/>
<use href="#p24" fill="none" stroke="#15172b" stroke-width="1.1" mask="url(#land)"/>
<use href="#p24" fill="#1b2668" stroke="#222" stroke-opacity="0.4" stroke-width="0.45"/>
<use href="#p25" fill="none" stroke="#15172b" stroke-width="1.1" mask="url(#land)"/>
<use href="#p25" fill="#6dcdbd" stroke="#222" stroke-opacity="0.4" stroke-width="0.45"/>
<use href="#p26" fill="none" stroke="#15172b" stroke-width="1.1" mask="url(#land)"/>
<use href="#p26" fill="#c7e9b4" stroke="#222" stroke-opacity="0.4" stroke-width="0.45"/>
<use href="#p27" fill="none" stroke="#15172b" stroke-width="1.1" mask="url(#land)"/>
<use href="#p27" fill="#6dcdbd" stroke="#222" stroke-opacity="0.4" stroke-width="0.45"/>
<use href="#p28" fill="none" stroke="#15172b" stroke-width="1.1" mask="url(#land)"/>
<use href="#p28" fill="#3db2c4" stroke="#222" stroke-opacity="0.4" stroke-width="0.45"/>
<use href="#p29" fill="none" stroke="#15172b" stroke-width="1.1" mask="url(#land)"/>
<use href="#p29" fill="#1b2668" stroke="#222" stroke-opacity="0.4" stroke-width="0.45"/>
<use href="#p30" fill="none" stroke="#15172b" stroke-width="1.1" mask="url(#land)"/>
<use href="#p30" fill="#0f4e99" stroke="#222" stroke-opacity="0.4" stroke-width="0.45"/>
<use href="#p31" fill="#0f4e99" stroke="#222" stroke-opacity="0.4" stroke-width="0.45"/>
<use href="#p32" fill="#1b2668" stroke="#222" stroke-opacity="0.4" stroke-width="0.45"/>
<use href="#p33" fill="none" stroke="#15172b" stroke-width="1.1" mask="url(#land)"/>
<use href="#p33" fill="#0f4e99" stroke="#222" stroke-opacity="0.4" stroke-width="0.45"/>
<use href="#p34" fill="none" stroke="#15172b" stroke-width="1.1" mask="url(#land)"/>
<use href="#p34" fill="#0f4e99" stroke="#222" stroke-opacity="0.4" stroke-width="0.45"/>
<use href="#p35" fill="none" stroke="#15172b" stroke-width="1.1" mask="url(#land)"/>
<use href="#p35" fill="#0f4e99" stroke="#222" stroke-opacity="0.4" stroke-width="0.45"/>
<use href="#p36" fill="#0f4e99" stroke="#222" stroke-opacity="0.4" stroke-width="0.45"/>
<use href="#p37" fill="#0f4e99" stroke="#222" stroke-opacity="0.4" stroke-width="0.45"/>
<use href="#p38" fill="#3db2c4" stroke="#222" stroke-opacity="0.4" stroke-width="0.45"/>
<use href="#p39" fill="none" stroke="#15172b" stroke-width="1.1" mask="url(#land)"/>
<use href="#p39" fill="#3db2c4" stroke="#222" stroke-opacity="0.4" stroke-width="0.45"/>
<use href="#p40" fill="none" stroke="#15172b" stroke-width="1.1" mask="url(#land)"/>
<use href="#p40" fill="#3db2c4" stroke="#222" stroke-opacity="0.4" stroke-width="0.45"/>
<use href="#p41" fill="none" stroke="#15172b" stroke-width="1.1" mask="url(#land)"/>
<use href="#p41" fill="#c7e9b4" stroke="#222" stroke-opacity="0.4" stroke-width="0.45"/>
<use href="#p42" fill="#c7e9b4" stroke="#222" stroke-opacity="0.4" stroke-width="0.45"/>
<use href="#p43" fill="none" stroke="#15172b" stroke-width="1.1" mask="url(#land)"/>
<use href="#p43" fill="#c7e9b4" stroke="#222" stroke-opacity="0.4" stroke-width="0.45"/>
<use href="#p44" fill="#c7e9b4" stroke="#222" stroke-opacity="0.4" stroke-width="0.45"/>
<use href="#p45" fill="#c7e9b4" stroke="#222" stroke-opacity="0.4" stroke-width="0.45"/>
<use href="#p46" fill="#c7e9b4" stroke="#222" stroke-opacity="0.4" stroke-width="0.45"/>
<use href="#p47" fill="#c7e9b4" stroke="#222" stroke-opacity="0.4" stroke-width="0.45"/>
<use href="#p48" fill="#c7e9b4" stroke="#222" stroke-opacity="0.4" stroke-width="0.45"/>
<use href="#p49" fill="#c7e9b4" stroke="#222" stroke-opacity="0.4" stroke-width="0.45"/>
<use href="#p50" fill="none" stroke="#15172b" stroke-width="1.1" mask="url(#land)"/>
<use href="#p50" fill="#0f4e99" stroke="#222" stroke-opacity="0.4" stroke-width="0.45"/>
<use href="#p51" fill="none" stroke="#15172b" stroke-width="1.1" mask="url(#land)"/>
<use href="#p51" fill="#3db2c4" stroke="#222" stroke-opacity="0.4" stroke-width="0.45"/>
<use href="#p52" fill="none" stroke="#15172b" stroke-width="1.1" mask="url(#land)"/>
<use href="#p52" fill="#3db2c4" stroke="#222" stroke-opacity="0.4" stroke-width="0.45"/>
<use href="#p53" fill="none" stroke="#15172b" stroke-width="1.1" mask="url(#land)"/>
<use href="#p53" fill="#6dcdbd" stroke="#222" stroke-opacity="0.4" stroke-width="0.45"/>
<use href="#p54" fill="#0f4e99" stroke="#222" stroke-opacity="0.4" stroke-width="0.45"/>
<use href="#p55" fill="none" stroke="#15172b" stroke-width="1.1" mask="url(#land)"/>
<use href="#p55" fill="#3db2c4" stroke="#222" stroke-opacity="0.4" stroke-width="0.45"/>
<use href="#p56" fill="#3db2c4" stroke="#222" stroke-opacity="0.4" stroke-width="0.45"/>
<use href="#p57" fill="#3db2c4" stroke="#222" stroke-opacity="0.4" stroke-width="0.45"/>
<use href="#p58" fill="#c7e9b4" stroke="#222" stroke-opacity="0.4" stroke-width="0.45"/>
<use href="#p59" fill="#c7e9b4" stroke="#222" stroke-opacity="0.4" stroke-width="0.45"/>
<use href="#p60" fill="#c7e9b4" stroke="#222" stroke-opacity="0.4" stroke-width="0.45"/>
<use href="#p61" fill="#c7e9b4" stroke="#222" stroke-opacity="0.4" stroke-width="0.45"/>
<use href="#p62" fill="#c7e9b4" stroke="#222" stroke-opacity="0.4" stroke-width="0.45"/>
<use href="#p63" fill="#c7e9b4" stroke="#222" stroke-opacity="0.4" stroke-width="0.45"/>
<use href="#p64" fill="#c7e9b4" stroke="#222" stroke-opacity="0.4" stroke-width="0.45"/>
<use href="#p65" fill="#c7e9b4" stroke="#222" stroke-opacity="0.4" stroke-width="0.45"/>
<use href="#p66" fill="#c7e9b4" stroke="#222" stroke-opacity="0.4" stroke-width="0.45"/>
<use href="#p67" fill="#c7e9b4" stroke="#222" stroke-opacity="0.4" stroke-width="0.45"/>
<use href="#p68" fill="#c7e9b4" stroke="#222" stroke-opacity="0.4" stroke-width="0.45"/>
<use href="#p69" fill="#c7e9b4" stroke="#222" stroke-opacity="0.4" stroke-width="0.45"/>
<use href="#p70" fill="#c7e9b4" stroke="#222" stroke-opacity="0.4" stroke-width="0.45"/>
<use href="#p71" fill="#c7e9b4" stroke="#222" stroke-opacity="0.4" stroke-width="0.45"/>
<use href="#p72" fill="#c7e9b4" stroke="#222" stroke-opacity="0.4" stroke-width="0.45"/>
<use href="#p73" fill="#c7e9b4" stroke="#222" stroke-opacity="0.4" stroke-width="0.45"/>
<use href="#p74" fill="#c7e9b4" stroke="#222" stroke-opacity="0.4" stroke-width="0.45"/>
<use href="#p75" fill="#1b2668" stroke="#222" stroke-opacity="0.4" stroke-width="0.45"/>
<use href="#p76" fill="none" stroke="#15172b" stroke-width="1.1" mask="url(#land)"/>
<use href="#p76" fill="#3db2c4" stroke="#222" stroke-opacity="0.4" stroke-width="0.45"/>
<use href="#p77" fill="none" stroke="#15172b" stroke-width="1.1" mask="url(#land)"/>
<use href="#p77" fill="#c7e9b4" stroke="#222" stroke-opacity="0.4" stroke-width="0.45"/>
<use href="#p78" fill="none" stroke="#15172b" stroke-width="1.1" mask="url(#land)"/>
<use href="#p78" fill="#1b2668" stroke="#222" stroke-opacity="0.4" stroke-width="0.45"/>
<use href="#p79" fill="none" stroke="#15172b" stroke-width="1.1" mask="url(#land)"/>
<use href="#p79" fill="#1b2668" stroke="#222" stroke-opacity="0.4" stroke-width="0.45"/>
<use href="#p80" fill="none" stroke="#15172b" stroke-width="1.1" mask="url(#land)"/>
<use href="#p80" fill="#1b2668" stroke="#222" stroke-opacity="0.4" stroke-width="0.45"/>
<use href="#p81" fill="none" stroke="#15172b" stroke-width="1.1" mask="url(#land)"/>
<use href="#p81" fill="#3db2c4" stroke="#222" stroke-opacity="0.4" stroke-width="0.45"/>
<use href="#p82" fill="none" stroke="#15172b" stroke-width="1.1" mask="url(#land)"/>
<use href="#p82" fill="#1b2668" stroke="#222" stroke-opacity="0.4" stroke-width="0.45"/>
<use href="#p83" fill="#3db2c4" stroke="#222" stroke-opacity="0.4" stroke-width="0.45"/>
<use href="#p84" fill="none" stroke="#15172b" stroke-width="1.1" mask="url(#land)"/>
<use href="#p84" fill="#1b2668" stroke="#222" stroke-opacity="0.4" stroke-width="0.45"/>
<use href="#p85" fill="none" stroke="#15172b" stroke-width="1.1" mask="url(#land)"/>
<use href="#p85" fill="#0f4e99" stroke="#222" stroke-opacity="0.4" stroke-width="0.45"/>
<path d="M380.82,464.02L383.22,469.63L382.42,473.63L385.62,477.63L386.42,482.44L382.42,485.64L379.22,489.64L377.62,495.25L380.02,500.05L384.02,503.26L388.02,508.06" fill="none" stroke="#5a5a5a" stroke-width="0.55"/>
<path d="M382.42,485.64L386.42,488.04L390.43,490.44L394.43,492.05L398.43,492.85L396.03,496.05L392.03,496.85L389.63,500.05L388.83,504.06L388.02,508.06" fill="none" stroke="#5a5a5a" stroke-width="0.55"/>
<path d="M396.03,496.05L398.43,497.65L401.64,500.85L404.04,503.26L402.44,507.26L403.24,513.67L405.64,518.47L409.64,523.27" fill="none" stroke="#5a5a5a" stroke-width="0.55"/>
<path d="M404.04,503.26L408.04,501.65L413.65,498.45L421.65,496.85L422.46,496.85" fill="none" stroke="#5a5a5a" stroke-width="0.55"/>
<path d="M398.43,492.85L400.84,488.04L403.24,485.64L408.04,488.04L412.85,491.25L415.25,493.65L413.65,498.45" fill="none" stroke="#b4b4b4" stroke-width="0.55"/>
<path d="M435.5,278.5L445,279.75L455,277.25L461.25,281L463.75,288.5L470,296L476.25,302.25L480,304.75L480,303.75L485,306.25L486.25,308.75L482.5,313.75L480,315L481.25,322.5L483.75,328.75" fill="none" stroke="#5a5a5a" stroke-width="0.55"/>
<path d="M411.25,351.25L420,348.75L430,346.25L440,345L450,347.5L460,343.75L470,343.75L476.25,341.25L480,337.5L480,330L483.75,328.75L488.75,322.5L495,320L501.25,319.5L506.25,323.75L508.75,330L512.5,333L517.5,332L523.75,336.25L527.5,341.25L533.75,340L542.5,335.5L547.5,338.75L552.5,337L560,337L567.5,337L573,337.5L574.5,343.75L573.75,348.75L577.5,353.75L578.75,360L577.5,363.75L571.25,366.25L567.5,372.5L568.75,378.75" fill="none" stroke="#5a5a5a" stroke-width="0.55"/>
<path d="M466,394L472,397L480,402L486,408L490,413L491,418L486,420L483,426L480,428L479,435" fill="none" stroke="#5a5a5a" stroke-width="0.55"/>
<path d="M607.5,427L607.5,422.5L615,420.5L625,418.75L633.75,416.25L640,415" fill="none" stroke="#5a5a5a" stroke-width="0.55"/>
<path d="M641,296.6L633.6,293.5L630.2,292.4L629.3,294.1L630.2,299.1L629.3,303.6L630.8,308.1L632.5,310.9L635.3,312.3L635.6,317L635.6,322.6L636.4,324.5L641,324.5" fill="none" stroke="#5a5a5a" stroke-width="0.55"/>
<path d="M641,281L637.5,284.6L639.2,287.4L641,288" fill="none" stroke="#5a5a5a" stroke-width="0.55"/>
<path d="M279.12,180.62L281.62,183.12L286,186.25L289.75,181.25L291.62,178.12" fill="none" stroke="#ffffff" stroke-width="0.9"/>
<path d="M267.25,187.5L268.75,190.62L269.75,193.12" fill="none" stroke="#ffffff" stroke-width="0.7"/>
<path d="M264.12,191.25L265.38,195" fill="none" stroke="#ffffff" stroke-width="0.7"/>
<path d="M253.5,201.88L257.25,200L261,199.38" fill="none" stroke="#ffffff" stroke-width="0.7"/>
<path d="M244.75,219.38L251,221.25L256,220L260.38,221.25" fill="none" stroke="#ffffff" stroke-width="0.9"/>
<path d="M246,240.62L249.75,237.5L254.12,233.12" fill="none" stroke="#ffffff" stroke-width="0.9"/>
<path d="M247.5,245.62L251,241.25" fill="none" stroke="#ffffff" stroke-width="0.7"/>
<path d="M245.38,228.75L248.5,226.88" fill="none" stroke="#ffffff" stroke-width="0.7"/>
<path d="M258.5,196.88L260.38,194.38" fill="none" stroke="#ffffff" stroke-width="0.7"/>
<path d="M75,607L87.5,585L92.5,585L97.5,592.5L110,597.5L125,602.5L140,601L155,597.5L170,592.5L185,590L205,590L220,589L235,587.5L247.5,586.5L255,587.75L262.5,590.25L267.5,589L272.5,585.25L280,584L286.25,586.5L290,590.25L293.75,588.5L296.25,591.5L293.75,596.5L291.25,601.5L292.5,607Z" fill="url(#gfade)" stroke="#b0b0b0" stroke-width="0.5"/>
<rect x="60" y="575" width="245" height="32" fill="url(#fade2)"/>
</g>
<path d="M641,587.5 L635,590 L606,625 L622,625 L641,603.5Z" fill="url(#ofade)"/>
<text x="2.4" y="23.3" font-size="25" font-weight="bold" fill="#404040" textLength="308" lengthAdjust="spacingAndGlyphs">Overall life satisfaction, 2023</text>
<text x="2.6" y="47.7" font-size="19.5" fill="#404040" textLength="152.5" lengthAdjust="spacingAndGlyphs">(mean scale 0-10)</text>
<text x="4.5" y="160" font-size="11.5" fill="#404040" letter-spacing="-0.3">EU=7.3</text>
<rect x="5" y="166.00" width="23" height="12" fill="#1b2668" stroke="#707070" stroke-width="0.6"/>
<text class="leg" x="32.5" y="176.00">≥ 7.6</text>
<rect x="5" y="182.63" width="23" height="12" fill="#0f4e99" stroke="#707070" stroke-width="0.6"/>
<text class="leg" x="32.5" y="192.63">7.4 – < 7.6</text>
<rect x="5" y="199.26" width="23" height="12" fill="#3db2c4" stroke="#707070" stroke-width="0.6"/>
<text class="leg" x="32.5" y="209.26">7.2 – < 7.4</text>
<rect x="5" y="215.89" width="23" height="12" fill="#6dcdbd" stroke="#707070" stroke-width="0.6"/>
<text class="leg" x="32.5" y="225.89">7 – < 7.2</text>
<rect x="5" y="232.52" width="23" height="12" fill="#c7e9b4" stroke="#707070" stroke-width="0.6"/>
<text class="leg" x="32.5" y="242.52">5.9 – < 7</text>
<rect x="5" y="249.15" width="23" height="12" fill="#ffe699" stroke="#707070" stroke-width="0.6"/>
<text class="leg" x="32.5" y="259.15">< 5.9</text>
<rect x="476.6" y="129.4" width="74.6" height="82.2" fill="#fff" stroke="#c8c8c8" stroke-width="0.8"/>
<rect x="556.9" y="129.4" width="74.2" height="82.2" fill="#1b2668" stroke="#c8c8c8" stroke-width="0.8"/>
<path d="M489.92,151.36L493.91,150.03L499.22,150.56L504.53,152.69L508.52,155.34L509.84,158.53L505.86,159.86L500.55,158.53L495.23,158L491.25,156.41Z" fill="#0f4e99"/>
<path d="M507.19,163.84L511.17,162.52L513.83,165.17L512.5,167.83L516.48,169.16L523.12,171.81L531.09,174.47L536.41,178.45L537.73,182.44L533.75,186.42L527.11,187.22L519.14,185.62L512.5,182.97L508.52,178.45L507.19,173.14L509.84,169.16L507.19,166.5Z" fill="#0f4e99"/>
<path d="M506.66,158.8L509.84,159.59L509.84,161.19L507.19,160.66Z" fill="#0f4e99"/>
<path d="M594.84,147.91L597.5,150.56L600.16,154.55L602.81,158.53L604.14,163.84L602.28,167.83L601.48,173.14L604.14,175.8L608.12,178.45L610.78,181.11L612.11,186.42L610.78,190.41L612.91,194.39L608.12,198.38L604.14,202.36L600.16,203.69L594.84,201.03L590.86,201.56L586.88,203.16L584.75,201.03L586.88,197.05L590.86,194.39L592.72,189.08L591.66,183.77L589.53,178.45L588.2,173.14L587.41,167.83L589,162.52L591.66,155.88L593.52,150.56Z" fill="#e6e6e6" stroke="#fff" stroke-width="0.8"/>
<path d="M606.8,129.31L605.47,134.62L602.81,138.61L600.16,142.59L596.17,147.38" fill="none" stroke="#111" stroke-width="0.5"/>
<path d="M608.12,199.7L613.44,202.36L620.08,201.03L625.39,203.69L630.97,206.34" fill="none" stroke="#111" stroke-width="0.5"/>
<text x="479" y="140.5" font-size="11" fill="#111">Malta</text>
<text x="558.5" y="140.5" font-size="11" fill="#111" stroke="#fff" stroke-width="2" paint-order="stroke fill" stroke-linejoin="round" textLength="64" lengthAdjust="spacingAndGlyphs">Liechtenstein</text>
<text class="halo" x="279.5" y="232.5" text-anchor="middle">7.6</text><text class="fg" x="279.5" y="232.5" text-anchor="middle">7.6</text>
<text class="halo" x="325" y="252" text-anchor="middle">7.5</text><text class="fg" x="325" y="252" text-anchor="middle">7.5</text>
<text class="halo" x="396" y="195.5" text-anchor="middle">7.8</text><text class="fg" x="396" y="195.5" text-anchor="middle">7.8</text>
<text class="halo" x="406" y="245.5" text-anchor="middle">7.2</text><text class="fg" x="406" y="245.5" text-anchor="middle">7.2</text>
<text class="halo" x="415.5" y="275" text-anchor="middle">6.9</text><text class="fg" x="415.5" y="275" text-anchor="middle">6.9</text>
<text class="halo" x="402" y="302.5" text-anchor="middle">7.2</text><text class="fg" x="402" y="302.5" text-anchor="middle">7.2</text>
<text class="halo" x="281" y="304.5" text-anchor="middle">7.5</text><text class="fg" x="281" y="304.5" text-anchor="middle">7.5</text>
<text class="halo" x="120" y="336" text-anchor="middle">7.6</text><text class="fg" x="120" y="336" text-anchor="middle">7.6</text>
<text class="halo" x="241.3" y="362" text-anchor="middle">7.6</text><text class="fg" x="241.3" y="362" text-anchor="middle">7.6</text>
<text class="halo" x="228.3" y="382.3" text-anchor="middle">7.7</text><text class="fg" x="228.3" y="382.3" text-anchor="middle">7.7</text>
<text class="halo" x="254.8" y="398.5" text-anchor="middle">7.3</text><text class="fg" x="254.8" y="398.5" text-anchor="middle">7.3</text>
<text class="halo" x="285" y="377.5" text-anchor="middle">7</text><text class="fg" x="285" y="377.5" text-anchor="middle">7</text>
<text class="halo" x="371" y="363.3" text-anchor="middle">7.6</text><text class="fg" x="371" y="363.3" text-anchor="middle">7.6</text>
<text class="halo" x="335" y="396" text-anchor="middle">7.4</text><text class="fg" x="335" y="396" text-anchor="middle">7.4</text>
<text class="halo" x="380.5" y="409" text-anchor="middle">7.3</text><text class="fg" x="380.5" y="409" text-anchor="middle">7.3</text>
<text class="halo" x="329" y="431" text-anchor="middle">7.7</text><text class="fg" x="329" y="431" text-anchor="middle">7.7</text>
<text class="halo" x="378" y="435" text-anchor="middle">7.2</text><text class="fg" x="378" y="435" text-anchor="middle">7.2</text>
<text class="halo" x="261.5" y="445" text-anchor="middle">7.8</text><text class="fg" x="261.5" y="445" text-anchor="middle">7.8</text>
<text class="halo" x="329.5" y="456" text-anchor="middle">7.7</text><text class="fg" x="329.5" y="456" text-anchor="middle">7.7</text>
<text class="halo" x="328" y="471.5" text-anchor="middle">7.1</text><text class="fg" x="328" y="471.5" text-anchor="middle">7.1</text>
<text class="halo" x="437" y="445" text-anchor="middle">7.7</text><text class="fg" x="437" y="445" text-anchor="middle">7.7</text>
<text class="halo" x="206" y="436.5" text-anchor="middle">7.1</text><text class="fg" x="206" y="436.5" text-anchor="middle">7.1</text>
<text class="halo" x="306" y="503" text-anchor="middle">7.2</text><text class="fg" x="306" y="503" text-anchor="middle">7.2</text>
<text class="halo" x="452.5" y="485.5" text-anchor="middle">5.9</text><text class="fg" x="452.5" y="485.5" text-anchor="middle">5.9</text>
<text class="halo" x="425.5" y="561" text-anchor="middle">6.9</text><text class="fg" x="425.5" y="561" text-anchor="middle">6.9</text>
<text class="halo" x="583" y="513" text-anchor="middle">5.6</text><text class="fg" x="583" y="513" text-anchor="middle">5.6</text>
<text class="halo" x="73" y="528.7" text-anchor="middle">7.1</text><text class="fg" x="73" y="528.7" text-anchor="middle">7.1</text>
<text class="halo" x="123" y="541" text-anchor="middle">7.2</text><text class="fg" x="123" y="541" text-anchor="middle">7.2</text>
<text class="halo" x="362.5" y="605" text-anchor="middle">7.4</text><text class="fg" x="362.5" y="605" text-anchor="middle">7.4</text>
<text class="halo" x="570.5" y="597" text-anchor="middle">7.5</text><text class="fg" x="570.5" y="597" text-anchor="middle">7.5</text>
<text class="halo" x="522" y="181" text-anchor="middle">7.4</text><text class="fg" x="522" y="181" text-anchor="middle">7.4</text>
<text x="6.5" y="620" font-size="16.5" font-weight="bold" fill="#6d6e71" textLength="72" lengthAdjust="spacingAndGlyphs">eurostat</text>
<rect x="80.8" y="608.8" width="18" height="12" fill="#0e47a1"/>
<circle cx="89.80" cy="610.90" r="0.55" fill="#ffcc00"/>
<circle cx="91.75" cy="611.42" r="0.55" fill="#ffcc00"/>
<circle cx="93.18" cy="612.85" r="0.55" fill="#ffcc00"/>
<circle cx="93.70" cy="614.80" r="0.55" fill="#ffcc00"/>
<circle cx="93.18" cy="616.75" r="0.55" fill="#ffcc00"/>
<circle cx="91.75" cy="618.18" r="0.55" fill="#ffcc00"/>
<circle cx="89.80" cy="618.70" r="0.55" fill="#ffcc00"/>
<circle cx="87.85" cy="618.18" r="0.55" fill="#ffcc00"/>
<circle cx="86.42" cy="616.75" r="0.55" fill="#ffcc00"/>
<circle cx="85.90" cy="614.80" r="0.55" fill="#ffcc00"/>
<circle cx="86.42" cy="612.85" r="0.55" fill="#ffcc00"/>
<circle cx="87.85" cy="611.42" r="0.55" fill="#ffcc00"/>
</svg>
</body></html>
